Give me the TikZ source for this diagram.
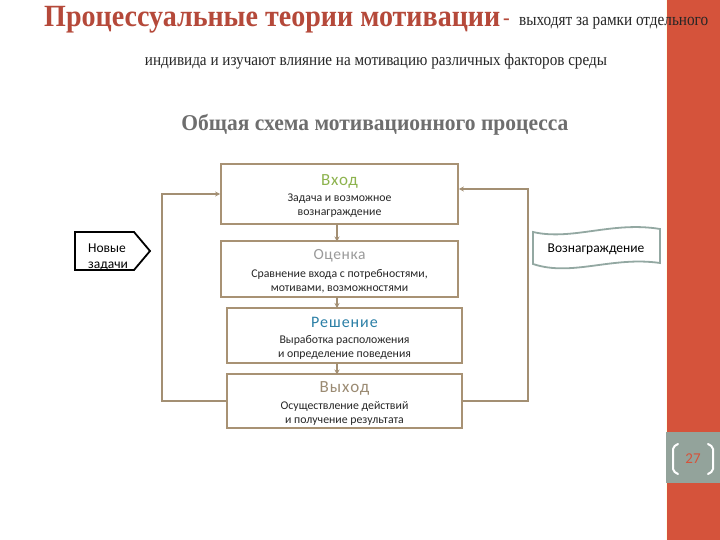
\documentclass[tikz,border=0pt]{standalone}
\usepackage{fontspec}
\setmainfont{Liberation Serif}
\newfontfamily\calf{Carlito}
\usetikzlibrary{arrows.meta}
\definecolor{barred}{HTML}{D5533B}
\definecolor{titlered}{HTML}{B5493A}
\definecolor{numbox}{HTML}{93A39B}
\definecolor{conn}{HTML}{A38F73}
\definecolor{boxline}{HTML}{A89274}
\definecolor{tapeline}{HTML}{93A8A2}
\definecolor{greentitle}{HTML}{8DB34E}
\definecolor{greytitle}{HTML}{9A9A9A}
\definecolor{bluetitle}{HTML}{2B7FA6}
\definecolor{browntitle}{HTML}{9B8B73}
\definecolor{subgrey}{HTML}{6E6E6E}
\begin{document}
\begin{tikzpicture}[x=1pt,y=-1pt,
  stagebox/.style={draw=boxline, line width=1.8pt, fill=white, inner sep=0pt},
  connline/.style={draw=conn, line width=1.6pt},
  arr/.style={-{Stealth[length=5pt,width=5pt]}},
  bodytxt/.style={font=\calf\fontsize{11.8}{14}\selectfont, align=center, inner sep=0pt, text=black!85},
  steptitle/.style={inner sep=0pt}
]
\useasboundingbox (0,0) rectangle (720,540);
\fill[white] (0,0) rectangle (720,540);
% right bar
\fill[barred] (667,0) rectangle (720,540);
\draw[white!90!yellow, line width=1pt] (666.5,0) -- (666.5,540);
\fill[numbox] (666,432) rectangle (720,483);
\draw[white, line width=2pt, line cap=round, rounded corners=2pt] (678,444) -- (673,447) -- (673,471) -- (678,474);
\draw[white, line width=2pt, line cap=round, rounded corners=2pt] (708,444) -- (713,447) -- (713,471) -- (708,474);
\node[font=\calf\fontsize{15}{16}\selectfont, text=barred, inner sep=0pt] (pagenum) at (693,459) {27};

% headings
\node[anchor=base west, inner sep=0pt, text=titlered] (title) at (44,27)
  {\scalebox{1}[1.1]{\resizebox{456pt}{!}{\bfseries Процессуальные теории мотивации}}};
\node[anchor=base west, inner sep=0pt, text=titlered] (dash) at (503,25)
  {\fontsize{20}{22}\selectfont\bfseries -};
\node[anchor=base west, inner sep=0pt, text=black!85] (sub1) at (519,26)
  {\scalebox{1}[1.15]{\resizebox{189pt}{!}{выходят за рамки отдельного}}};
\node[anchor=base, inner sep=0pt, text=black!85] (sub2) at (376,66)
  {\scalebox{1}[1.12]{\resizebox{462pt}{!}{индивида и изучают влияние на мотивацию различных факторов среды}}};
\node[anchor=base, inner sep=0pt, text=subgrey] (scheme) at (375,131)
  {\scalebox{1}[1.05]{\resizebox{387pt}{!}{\bfseries Общая схема мотивационного процесса}}};

% stage boxes
\node[stagebox, minimum width=237pt, minimum height=60pt] (vhod) at (339.5,194) {};
\node[stagebox, minimum width=237pt, minimum height=56pt] (ocenka) at (339.5,269) {};
\node[stagebox, minimum width=235pt, minimum height=55pt] (reshenie) at (344.5,335.5) {};
\node[stagebox, minimum width=235pt, minimum height=54pt] (vyhod) at (344.5,401) {};

\node[steptitle, text=greentitle, font=\calf\fontsize{17}{18}\selectfont] (vhodt) at (339.5,181) {\addfontfeature{LetterSpace=5}Вход};
\node[bodytxt] (vhodb) at (339.5,206) {Задача и возможное\\ вознаграждение};
\node[steptitle, text=greytitle, font=\calf\fontsize{15.5}{17}\selectfont] (ocenkat) at (339.5,256) {\addfontfeature{LetterSpace=4}Оценка};
\node[bodytxt] (ocenkab) at (339.5,281) {Сравнение входа с потребностями,\\ мотивами, возможностями};
\node[steptitle, text=bluetitle, font=\calf\fontsize{16}{17}\selectfont] (reshet) at (344.5,322) {\addfontfeature{LetterSpace=6}Решение};
\node[bodytxt] (reshb) at (344.5,347) {Выработка расположения\\ и определение поведения};
\node[steptitle, text=browntitle, font=\calf\fontsize{17}{18}\selectfont] (vyhodt) at (344.5,388) {\addfontfeature{LetterSpace=6}Выход};
\node[bodytxt] (vyhodb) at (344.5,413) {Осуществление действий\\ и получение результата};

% vertical arrows
\draw[connline, arr] (337,224) -- (337,241.5);
\draw[connline, arr] (337,297) -- (337,308);
\draw[connline, arr] (337,363) -- (337,374.5);

% loops
\coordinate (lx) at (162,300);
\coordinate (rx) at (528,300);
\draw[connline, arr] (vyhod.west) -| (lx) |- (vhod.west);
\draw[connline, arr] (vyhod.east) -| (rx) |- ([yshift=5pt]vhod.east);

% new tasks pentagon
\draw[black, line width=1.8pt, line join=miter] (75,232) -- (134,232) -- (150,251) -- (134,270) -- (75,270) -- cycle;
\node[font=\calf\fontsize{13.5}{16}\selectfont, align=left, anchor=west, inner sep=0pt] (newtasks) at (88,257) {Новые\\задачи};

% reward wave
\draw[tapeline, line width=1.8pt, fill=white]
  (533,232) .. controls (572,241) and (612,221) .. (660,229)
  -- (660,263) .. controls (612,256) and (572,277) .. (533,264) -- cycle;
\node[font=\calf\fontsize{13.5}{15}\selectfont, inner sep=0pt] (reward) at (596,249) {Вознаграждение};
\end{tikzpicture}
\end{document}
